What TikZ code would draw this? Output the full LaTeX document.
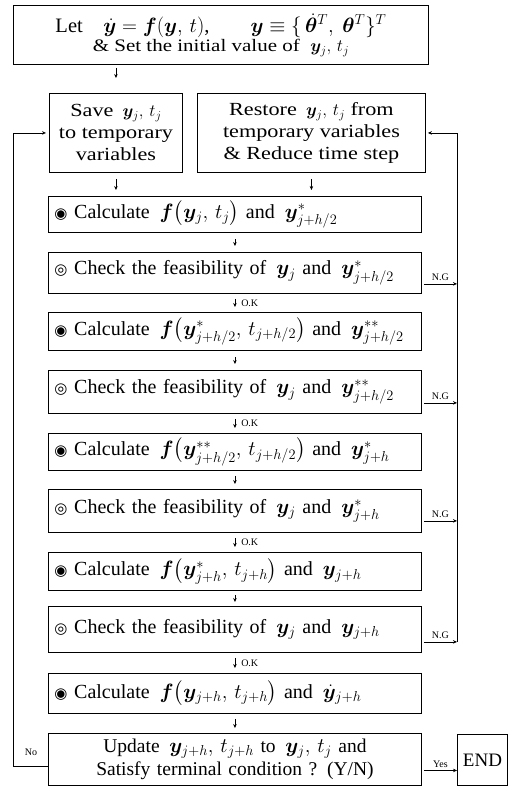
\documentclass[tikz,border=0pt]{standalone}
\usepackage{amsmath}
\usepackage{bm}
\usepackage{fontspec}
\setmainfont{Liberation Serif}
\newfontfamily\widefont[FakeStretch=1.2]{Liberation Serif}
\newfontfamily\symfont{DejaVu Sans}
\usetikzlibrary{arrows.meta,calc}
\newcommand\fisheye{{\symfont\fontsize{15}{15}\selectfont ◉}}
\newcommand\bullseye{{\symfont\fontsize{15}{15}\selectfont ◎}}
\begin{document}
\begin{tikzpicture}[x=1pt,y=-1pt,
  box/.style={draw, line width=0.9pt, inner sep=0pt, anchor=north west},
  row/.style={box, minimum width=373pt, text width=361pt, align=left, inner xsep=6pt, font=\fontsize{20}{23}\selectfont},
  upper/.style={box, align=center, font=\widefont\fontsize{18.5}{22}\selectfont},
  flow/.style={-{Stealth[length=4pt,width=3.5pt]}, line width=0.6pt},
  small/.style={font=\fontsize{10}{11}\selectfont, inner sep=1pt}]
\useasboundingbox (0,0) rectangle (517,791);
% boxes
\node[upper, minimum width=415pt, minimum height=59pt] (top) at (13,5)
  {{\rmfamily\fontsize{20.5}{24}\selectfont Let\quad $\dot{\bm y}=\bm f(\bm y,\,t)$,\qquad $\bm y\equiv\{\,\dot{\bm\theta}^{T},\ \bm\theta^{T}\}^{T}$}\\[-3pt]
   {\fontsize{17.5}{20}\selectfont \& Set the initial value of\ \ $\bm y_j,\,t_j$}};
\node[upper, minimum width=133pt, minimum height=79pt] (save) at (49,93)
  {Save\enspace $\bm y_j,\,t_j$\\ to temporary\\ variables};
\node[upper, minimum width=228pt, minimum height=79pt] (restore) at (197,93)
  {Restore\enspace $\bm y_j,\,t_j$ from\\ temporary variables\\ \& Reduce time step};
\node[row, minimum height=36pt] (calc1) at (48,196)
  {\fisheye\ Calculate\enspace $\bm f\bigl(\bm y_j,\,t_j\bigr)$ and\enspace $\bm y^{*}_{j+h/2}$};
\node[row, minimum height=41pt] (chk1) at (48,252)
  {\bullseye\ Check the feasibility of\enspace $\bm y_j$ and\enspace $\bm y^{*}_{j+h/2}$};
\node[row, minimum height=38pt] (calc2) at (48,312)
  {\fisheye\ Calculate\enspace $\bm f\bigl(\bm y^{*}_{j+h/2},\,t_{j+h/2}\bigr)$ and\enspace $\bm y^{**}_{j+h/2}$};
\node[row, minimum height=43pt] (chk2) at (48,370)
  {\bullseye\ Check the feasibility of\enspace $\bm y_j$ and\enspace $\bm y^{**}_{j+h/2}$};
\node[row, minimum height=37pt] (calc3) at (48,433)
  {\fisheye\ Calculate\enspace $\bm f\bigl(\bm y^{**}_{j+h/2},\,t_{j+h/2}\bigr)$ and\enspace $\bm y^{*}_{j+h}$};
\node[row, minimum height=43pt] (chk3) at (48,489)
  {\bullseye\ Check the feasibility of\enspace $\bm y_j$ and\enspace $\bm y^{*}_{j+h}$};
\node[row, minimum height=38pt] (calc4) at (48,552)
  {\fisheye\ Calculate\enspace $\bm f\bigl(\bm y^{*}_{j+h},\,t_{j+h}\bigr)$ and\enspace $\bm y_{j+h}$};
\node[row, minimum height=46pt] (chk4) at (48,606)
  {\bullseye\ Check the feasibility of\enspace $\bm y_j$ and\enspace $\bm y_{j+h}$};
\node[row, minimum height=40pt] (calc5) at (48,673)
  {\fisheye\ Calculate\enspace $\bm f\bigl(\bm y_{j+h},\,t_{j+h}\bigr)$ and\enspace $\dot{\bm y}_{j+h}$};
\node[row, minimum height=52pt, align=center, font=\fontsize{19.5}{23}\selectfont] (update) at (48,733)
  {Update\enspace $\bm y_{j+h},\,t_{j+h}$ to\enspace $\bm y_j,\,t_j$ and\\ Satisfy terminal condition ? (Y/N)};
\node[box, minimum width=50pt, minimum height=51pt, font=\fontsize{19}{22}\selectfont] (end) at (457,734) {END};
% guide coordinates
\coordinate (R) at (457,0);
\coordinate (L) at (13,0);
% downward arrows
\draw[flow, shorten <=3pt, shorten >=15pt] (top.south -| save) -- (save.north);
\draw[flow, shorten <=6pt, shorten >=6pt] (save.south) -- (save.south |- calc1.north);
\draw[flow, shorten <=6pt, shorten >=6pt] (restore.south) -- (restore.south |- calc1.north);
\draw[flow, shorten <=6pt, shorten >=6pt] (calc1.south) -- (chk1.north);
\draw[flow, shorten <=5pt, shorten >=5pt] (chk1.south) -- node[small, right=5pt] (ok1) {O.K} (calc2.north);
\draw[flow, shorten <=6pt, shorten >=6pt] (calc2.south) -- (chk2.north);
\draw[flow, shorten <=5pt, shorten >=5pt] (chk2.south) -- node[small, right=5pt] (ok2) {O.K} (calc3.north);
\draw[flow, shorten <=5pt, shorten >=5pt] (calc3.south) -- (chk3.north);
\draw[flow, shorten <=5pt, shorten >=5pt] (chk3.south) -- node[small, right=5pt] (ok3) {O.K} (calc4.north);
\draw[flow, shorten <=4pt, shorten >=4pt] (calc4.south) -- (chk4.north);
\draw[flow, shorten <=5pt, shorten >=5pt] (chk4.south) -- node[small, right=5pt] (ok4) {O.K} (calc5.north);
\draw[flow, shorten <=5pt, shorten >=5pt] (calc5.south) -- (update.north);
% NG branches to the right return line
\coordinate (n1) at ($(chk1.south east)+(2,-10)$);
\coordinate (n2) at ($(chk2.south east)+(2,-11)$);
\coordinate (n3) at ($(chk3.south east)+(2,-12)$);
\coordinate (n4) at ($(chk4.south east)+(2,-11)$);
\draw[flow] (n1) -- node[small, above=2pt] (ng1) {N.G} (n1 -| R);
\draw[flow] (n2) -- node[small, above=2pt] (ng2) {N.G} (n2 -| R);
\draw[flow] (n3) -- node[small, above=2pt] (ng3) {N.G} (n3 -| R);
\draw[flow] (n4) -- node[small, above=2pt] (ng4) {N.G} (n4 -| R);
\draw[flow, line width=0.8pt, shorten >=2pt] (n4 -| R) |- (restore.east);
% No loop on the left
\coordinate (u) at ($(update.south west)+(0,-20)$);
\draw[flow, line width=0.8pt, shorten >=3pt] (u) -- (u -| L) |- (save.west);
\node[small] (no) at (31,752) {No};
% Yes to END
\coordinate (y) at ($(update.east)+(2,11)$);
\draw[flow] (y) -- node[small, above=2pt] (yes) {Yes} (y -| end.west);
\end{tikzpicture}
\end{document}
